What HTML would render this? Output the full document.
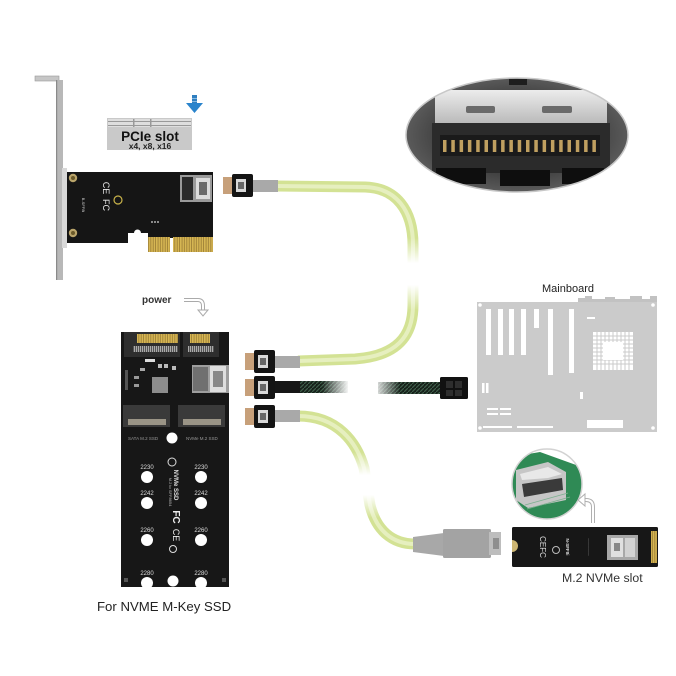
<!DOCTYPE html>
<html><head><meta charset="utf-8">
<style>
html,body{margin:0;padding:0;background:#fff;}
svg{display:block;}
text{font-family:"Liberation Sans",sans-serif;}
</style></head><body>
<svg width="676" height="676" viewBox="0 0 676 676" xmlns="http://www.w3.org/2000/svg">
<defs>
 <linearGradient id="fadeV" x1="0" y1="0" x2="0" y2="1">
  <stop offset="0" stop-color="#fff" stop-opacity="0"/>
  <stop offset="0.35" stop-color="#fff" stop-opacity="1"/>
  <stop offset="0.65" stop-color="#fff" stop-opacity="1"/>
  <stop offset="1" stop-color="#fff" stop-opacity="0"/>
 </linearGradient>
 <linearGradient id="fadeH" x1="0" y1="0" x2="1" y2="0">
  <stop offset="0" stop-color="#fff" stop-opacity="0"/>
  <stop offset="0.35" stop-color="#fff" stop-opacity="1"/>
  <stop offset="0.65" stop-color="#fff" stop-opacity="1"/>
  <stop offset="1" stop-color="#fff" stop-opacity="0"/>
 </linearGradient>
 <linearGradient id="silver" x1="0" y1="0" x2="0" y2="1">
  <stop offset="0" stop-color="#ececec"/>
  <stop offset="1" stop-color="#b9b9b9"/>
 </linearGradient>
 <radialGradient id="ovalG" cx="0.5" cy="0.5" r="0.6">
  <stop offset="0.5" stop-color="#3a3a3a"/>
  <stop offset="1" stop-color="#6a6a6a"/>
 </radialGradient>
 <pattern id="gold" width="2.4" height="10" patternUnits="userSpaceOnUse">
  <rect width="2.4" height="10" fill="#d6b653"/>
  <rect x="1.7" width="0.7" height="10" fill="#8f7230"/>
 </pattern>
 <pattern id="braid" width="4" height="4" patternUnits="userSpaceOnUse">
  <rect width="4" height="4" fill="#16201a"/>
  <path d="M0,4 L4,0" stroke="#3f5e4a" stroke-width="1.2"/>
 </pattern>
 <pattern id="grayPins" width="2" height="6" patternUnits="userSpaceOnUse">
  <rect width="2" height="6" fill="#555"/>
  <rect width="1" height="6" fill="#aaa"/>
 </pattern>
 <clipPath id="ovalClip"><ellipse cx="517" cy="135" rx="111" ry="57"/></clipPath>
 <clipPath id="circClip"><circle cx="547" cy="484" r="35"/></clipPath>
</defs>

<rect width="676" height="676" fill="#fff"/>

<!-- ============ Bracket ============ -->
<rect x="35" y="76" width="24" height="5" fill="#c6c6c6" stroke="#999" stroke-width="0.6"/>
<rect x="56" y="80" width="7" height="200" fill="#b8b8b8"/>
<rect x="56" y="80" width="1.2" height="200" fill="#8a8a8a"/>
<rect x="62" y="168" width="5" height="80" fill="#d8d8d8"/>

<!-- ============ PCIe card ============ -->
<path d="M67,172 H213 V238 H148 V233 H141 A3.5,3.5 0 0 0 134,233 H128 V243 H67 Z" fill="#151515"/>
<rect x="148" y="237" width="22" height="15" fill="url(#gold)"/>
<rect x="173" y="237" width="40" height="15" fill="url(#gold)"/>
<circle cx="73" cy="178" r="4.2" fill="#b9a46a"/>
<circle cx="73" cy="178" r="2" fill="#6b5a2a"/>
<circle cx="73" cy="233" r="4.2" fill="#b9a46a"/>
<circle cx="73" cy="233" r="2" fill="#6b5a2a"/>
<text x="103" y="188" font-size="9" fill="#e8e8e8" transform="rotate(90 103 188)" text-anchor="middle">CE</text>
<text x="103" y="205" font-size="9" fill="#e8e8e8" transform="rotate(90 103 205)" text-anchor="middle">FC</text>
<text x="82" y="205" font-size="4" fill="#ccc" transform="rotate(90 82 205)" text-anchor="middle">B-SFF8i</text>
<circle cx="118" cy="200" r="4" fill="none" stroke="#c9b34a" stroke-width="1.2"/>
<circle cx="152" cy="222" r="0.9" fill="#ddd"/><circle cx="155" cy="222" r="0.9" fill="#ddd"/><circle cx="158" cy="222" r="0.9" fill="#ddd"/>
<!-- SFF connector on card -->
<rect x="180" y="175" width="32" height="27" fill="#9a9a9a"/>
<rect x="182" y="177" width="11" height="23" fill="#2a2a2a"/>
<rect x="196" y="178" width="14" height="21" fill="#dcdcdc"/>
<rect x="199" y="182" width="8" height="13" fill="#6a6a6a"/>

<!-- PCIe slot illustration -->
<rect x="107" y="118" width="85" height="32" fill="#c9c9c9"/>
<rect x="108" y="119" width="83" height="8" fill="#dedede"/>
<rect x="108" y="121" width="83" height="0.8" fill="#888"/>
<rect x="108" y="125" width="83" height="0.8" fill="#888"/>
<rect x="133" y="119" width="1.5" height="8" fill="#999"/>
<rect x="150" y="119" width="1.5" height="8" fill="#999"/>
<text x="150" y="141" font-size="13.5" font-weight="bold" fill="#111" text-anchor="middle">PCIe slot</text>
<text x="150" y="149" font-size="8.5" font-weight="bold" fill="#222" text-anchor="middle">x4, x8, x16</text>
<!-- blue arrow -->
<rect x="192" y="95" width="5" height="9" fill="#2f7fc0"/>
<rect x="192" y="98" width="5" height="0.8" fill="#9cc8ea"/>
<rect x="192" y="101" width="5" height="0.8" fill="#9cc8ea"/>
<polygon points="186,103 203,103 194.5,113" fill="#2a84cc"/>

<!-- ============ Oval inset ============ -->
<ellipse cx="517" cy="135" rx="111" ry="57" fill="url(#ovalG)"/>
<g clip-path="url(#ovalClip)">
 <rect x="435" y="90" width="172" height="34" fill="url(#silver)"/>
 <rect x="466" y="106" width="29" height="7" rx="2" fill="#6a6a6a"/>
 <rect x="542" y="106" width="30" height="7" rx="2" fill="#6a6a6a"/>
 <rect x="432" y="123" width="178" height="50" fill="#2b2b2b"/>
 <rect x="440" y="135" width="160" height="21" fill="#1a1a1a"/>
 <g fill="#c0a060">
  <rect x="443" y="140" width="3.5" height="12"/><rect x="451.3" y="140" width="3.5" height="12"/>
  <rect x="459.6" y="140" width="3.5" height="12"/><rect x="467.9" y="140" width="3.5" height="12"/>
  <rect x="476.2" y="140" width="3.5" height="12"/><rect x="484.5" y="140" width="3.5" height="12"/>
  <rect x="492.8" y="140" width="3.5" height="12"/><rect x="501.1" y="140" width="3.5" height="12"/>
  <rect x="509.4" y="140" width="3.5" height="12"/><rect x="517.7" y="140" width="3.5" height="12"/>
  <rect x="526" y="140" width="3.5" height="12"/><rect x="534.3" y="140" width="3.5" height="12"/>
  <rect x="542.6" y="140" width="3.5" height="12"/><rect x="550.9" y="140" width="3.5" height="12"/>
  <rect x="559.2" y="140" width="3.5" height="12"/><rect x="567.5" y="140" width="3.5" height="12"/>
  <rect x="575.8" y="140" width="3.5" height="12"/><rect x="584.1" y="140" width="3.5" height="12"/>
  <rect x="592.4" y="140" width="3.5" height="12"/>
 </g>
 <rect x="436" y="168" width="50" height="16" fill="#0e0e0e"/>
 <rect x="500" y="170" width="50" height="16" fill="#0e0e0e"/>
 <rect x="562" y="168" width="42" height="16" fill="#0e0e0e"/>
 <rect x="509" y="79" width="18" height="6" fill="#1e1e1e"/>
</g>
<ellipse cx="517" cy="135" rx="111" ry="57" fill="none" stroke="#c8c8c8" stroke-width="1.5"/>

<!-- ============ Cables ============ -->
<path d="M276,186 L365,187 C396,188 413,210 413,245 L413,305 C413,337 396,356 355,359 L298,361" fill="none" stroke="#d3e294" stroke-width="11"/>
<path d="M276,186 L365,187 C396,188 413,210 413,245 L413,305 C413,337 396,356 355,359 L298,361" fill="none" stroke="#e6efbf" stroke-width="4"/>
<rect x="398" y="238" width="30" height="72" fill="url(#fadeV)"/>

<path d="M298,416 C338,416 357,443 364,468 L370,505 C376,530 392,544 415,544" fill="none" stroke="#d3e294" stroke-width="11"/>
<path d="M298,416 C338,416 357,443 364,468 L370,505 C376,530 392,544 415,544" fill="none" stroke="#e6efbf" stroke-width="4"/>
<rect x="350" y="452" width="35" height="66" fill="url(#fadeV)"/>

<rect x="298" y="381" width="50" height="12" fill="url(#braid)"/>
<rect x="378" y="382" width="64" height="12" fill="url(#braid)"/>
<rect x="322" y="376" width="78" height="22" fill="url(#fadeH)"/>
<rect x="440" y="377" width="28" height="22" rx="1.5" fill="#111"/>
<rect x="446" y="381" width="7" height="7" fill="#2e2e2e"/>
<rect x="455" y="381" width="7" height="7" fill="#2e2e2e"/>
<rect x="446" y="390" width="7" height="6" fill="#2e2e2e"/>
<rect x="455" y="390" width="7" height="6" fill="#2e2e2e"/>

<rect x="253" y="180" width="25" height="12" fill="#a9a9a9"/>
<rect x="275" y="356" width="25" height="12" fill="#a9a9a9"/>
<rect x="275" y="381" width="25" height="12" fill="#161616"/>
<rect x="275" y="410" width="25" height="12" fill="#a9a9a9"/>

<g>
 <rect x="223" y="177" width="10" height="17" fill="#c7a07a"/>
 <rect x="232" y="174" width="21" height="23" rx="2" fill="#141414"/>
 <rect x="236" y="179" width="10" height="13" fill="#d8d8d8"/>
 <rect x="238" y="182" width="6" height="7" fill="#666"/>
</g>
<g>
 <rect x="245" y="353" width="10" height="17" fill="#c7a07a"/>
 <rect x="254" y="350" width="21" height="23" rx="2" fill="#141414"/>
 <rect x="258" y="355" width="10" height="13" fill="#d8d8d8"/>
 <rect x="260" y="358" width="6" height="7" fill="#666"/>
</g>
<g>
 <rect x="245" y="379" width="10" height="17" fill="#c7a07a"/>
 <rect x="254" y="376" width="21" height="23" rx="2" fill="#141414"/>
 <rect x="258" y="381" width="10" height="13" fill="#d8d8d8"/>
 <rect x="260" y="384" width="6" height="7" fill="#666"/>
</g>
<g>
 <rect x="245" y="408" width="10" height="17" fill="#c7a07a"/>
 <rect x="254" y="405" width="21" height="23" rx="2" fill="#141414"/>
 <rect x="258" y="410" width="10" height="13" fill="#d8d8d8"/>
 <rect x="260" y="413" width="6" height="7" fill="#666"/>
</g>

<polygon points="413,537 444,533 444,556 413,552" fill="#a8a8a8"/>
<rect x="443" y="529" width="48" height="29" rx="1.5" fill="#a3a3a3"/>
<rect x="489" y="532" width="12" height="23" fill="#bdbdbd"/>
<rect x="493" y="538" width="6" height="11" fill="#8e8e8e"/>

<!-- ============ Lower adapter board ============ -->
<rect x="121" y="332" width="108" height="255" fill="#171717"/>
<rect x="124" y="332" width="56" height="25" fill="#2e2e2e"/>
<rect x="137" y="334" width="41" height="9" fill="url(#gold)"/>
<rect x="133" y="346" width="45" height="6" fill="url(#grayPins)"/>
<rect x="183" y="332" width="36" height="25" fill="#2e2e2e"/>
<rect x="190" y="334" width="20" height="9" fill="url(#gold)"/>
<rect x="188" y="346" width="26" height="6" fill="url(#grayPins)"/>
<rect x="145" y="359" width="10" height="3" fill="#ddd"/>
<rect x="158" y="364" width="4" height="4" fill="#bbb"/>
<rect x="164" y="364" width="4" height="4" fill="#bbb"/>
<rect x="172" y="366" width="4" height="4" fill="#bbb"/>
<rect x="140" y="368" width="5" height="3" fill="#aaa"/>
<rect x="134" y="376" width="5" height="3" fill="#999"/>
<rect x="134" y="384" width="5" height="3" fill="#999"/>
<rect x="152" y="377" width="16" height="16" fill="#8d8d8d"/>
<rect x="125" y="370" width="3" height="20" fill="#555"/>
<rect x="192" y="365" width="37" height="28" fill="#9e9e9e"/>
<rect x="193" y="367" width="15" height="24" fill="#707070"/>
<rect x="210" y="366" width="16" height="26" fill="#dedede"/>
<rect x="213" y="371" width="10" height="16" fill="#888"/>
<rect x="123" y="405" width="47" height="22" fill="#3a3a3a"/>
<rect x="128" y="419" width="38" height="6" fill="#9a9486"/>
<rect x="178" y="405" width="47" height="22" fill="#3a3a3a"/>
<rect x="183" y="419" width="38" height="6" fill="#9a9486"/>
<text x="128" y="440" font-size="4.5" fill="#999">SATA M.2 SSD</text>
<text x="186" y="440" font-size="4.5" fill="#999">NVMe M.2 SSD</text>
<circle cx="172" cy="438" r="5.5" fill="#fff"/>
<g fill="#fff">
 <circle cx="147" cy="477" r="6"/><circle cx="201" cy="477" r="6"/>
 <circle cx="147" cy="503" r="6"/><circle cx="201" cy="503" r="6"/>
 <circle cx="147" cy="540" r="6"/><circle cx="201" cy="540" r="6"/>
 <circle cx="147" cy="583" r="6"/><circle cx="201" cy="583" r="6"/>
 <circle cx="173" cy="581" r="5.5"/>
</g>
<g font-size="6" fill="#ddd" text-anchor="middle">
 <text x="147" y="469">2230</text><text x="201" y="469">2230</text>
 <text x="147" y="495">2242</text><text x="201" y="495">2242</text>
 <text x="147" y="532">2260</text><text x="201" y="532">2260</text>
 <text x="147" y="575">2280</text><text x="201" y="575">2280</text>
</g>
<circle cx="172" cy="462" r="4" fill="none" stroke="#ddd" stroke-width="1"/>
<text x="174" y="485" font-size="6" font-weight="bold" fill="#ddd" transform="rotate(90 174 485)" text-anchor="middle">NVMe SSD</text>
<text x="169" y="492" font-size="4" fill="#bbb" transform="rotate(90 169 492)" text-anchor="middle">M.2 to SFF8654</text>
<text x="173" y="517" font-size="10" font-weight="bold" fill="#eee" transform="rotate(90 173 517)" text-anchor="middle">FC</text>
<text x="173" y="535" font-size="9" fill="#eee" transform="rotate(90 173 535)" text-anchor="middle">CE</text>
<circle cx="173" cy="549" r="3.5" fill="none" stroke="#ddd" stroke-width="1"/>
<rect x="124" y="578" width="4" height="4" fill="#555"/>
<rect x="222" y="578" width="4" height="4" fill="#555"/>

<text x="142" y="303" font-size="10" font-weight="bold" fill="#333">power</text>
<path d="M184,300 H198 Q203,300 203,306 V311" fill="none" stroke="#aaa" stroke-width="4"/>
<path d="M184,300 H198 Q203,300 203,306 V311" fill="none" stroke="#fff" stroke-width="2"/>
<polygon points="198,310 208,310 203,316" fill="#fff" stroke="#aaa" stroke-width="1"/>

<text x="97" y="611" font-size="13.2" fill="#222">For NVME M-Key SSD</text>

<!-- ============ Mainboard ============ -->
<text x="568" y="292" font-size="11" fill="#222" text-anchor="middle">Mainboard</text>
<path d="M578,302 V298 H585 V296 H592 V299 H605 V297 H615 V299 H630 V296 H642 V299 H650 V296 H657 V302 Z" fill="#c2c2c2"/>
<rect x="477" y="302" width="180" height="130" fill="#cbcbcb"/>
<g fill="#fff">
 <circle cx="480" cy="305" r="1.8"/><circle cx="480" cy="428" r="1.8"/>
 <circle cx="653" cy="305" r="1.8"/><circle cx="653" cy="428" r="1.8"/>
 <rect x="486" y="309" width="5" height="46"/>
 <rect x="498" y="309" width="5" height="46"/>
 <rect x="509" y="309" width="5" height="46"/>
 <rect x="521" y="309" width="5" height="46"/>
 <rect x="534" y="309" width="5" height="19"/>
 <rect x="548" y="309" width="5" height="66"/>
 <rect x="569" y="309" width="5" height="64"/>
 <rect x="587" y="317" width="8" height="2"/>
 <rect x="593" y="332" width="40" height="38"/>
 <rect x="482" y="383" width="2.5" height="10"/>
 <rect x="486" y="383" width="2.5" height="10"/>
 <rect x="487" y="408" width="11" height="2"/><rect x="500" y="408" width="11" height="2"/>
 <rect x="487" y="413" width="11" height="2"/><rect x="500" y="413" width="11" height="2"/>
 <rect x="483" y="426" width="29" height="2"/>
 <rect x="517" y="426" width="36" height="2"/>
 <rect x="587" y="420" width="36" height="8"/>
 <rect x="580" y="392" width="3" height="7"/>
</g>
<g stroke="#cbcbcb" stroke-width="1">
 <path d="M597,332 V370 M601,332 V370 M605,332 V370 M609,332 V370 M613,332 V370 M617,332 V370 M621,332 V370 M625,332 V370 M629,332 V370"/>
 <path d="M593,336 H633 M593,340 H633 M593,344 H633 M593,348 H633 M593,352 H633 M593,356 H633 M593,360 H633 M593,364 H633"/>
</g>
<rect x="603" y="342" width="20" height="18" fill="#fff"/>

<!-- ============ M.2 card ============ -->
<rect x="512" y="527" width="146" height="40" rx="1.5" fill="#171717"/>
<rect x="651" y="531" width="6" height="32" fill="url(#gold)"/>
<path d="M512,540 A6,6 0 0 1 512,552 Z" fill="#cdb673"/>
<text x="540" y="547" font-size="8" fill="#ddd" transform="rotate(90 540 547)" text-anchor="middle">CEFC</text>
<circle cx="556" cy="550" r="3.5" fill="none" stroke="#bbb" stroke-width="1"/>
<text x="566" y="547" font-size="4.5" font-weight="bold" fill="#ddd" transform="rotate(90 566 547)" text-anchor="middle">N-SFF8i</text>
<text x="588" y="547" font-size="3.5" fill="#999" transform="rotate(90 588 547)" text-anchor="middle">—————</text>
<rect x="607" y="535" width="31" height="25" fill="#a8a8a8"/>
<rect x="611" y="538" width="12" height="19" fill="#e0e0e0"/>
<rect x="625" y="538" width="10" height="19" fill="#d2d2d2"/>
<rect x="614" y="543" width="6" height="8" fill="#888"/>
<text x="562" y="582" font-size="12.3" fill="#333">M.2 NVMe slot</text>

<g clip-path="url(#circClip)">
 <rect x="510" y="447" width="76" height="76" fill="#fff"/>
 <polygon points="505,458 540,452 590,470 590,525 505,525" fill="#2f8a55"/>
 <polygon points="516,470 548,462 566,472 566,500 528,508 516,500" fill="#c6c6c6"/>
 <polygon points="522,484 562,478 563,490 524,497" fill="#3a3a3a"/>
 <polygon points="520,474 548,467 562,474 548,478 522,480" fill="#e8e8e8"/>
 <path d="M525,505 L568,493 M527,509 L570,497" stroke="#7bb08f" stroke-width="0.8"/>
</g>
<circle cx="547" cy="484" r="35" fill="none" stroke="#d2d2d2" stroke-width="1.5"/>
<path d="M593,523 V507 Q593,500 586,500 H583" fill="none" stroke="#b0b0b0" stroke-width="4"/>
<path d="M593,523 V507 Q593,500 586,500 H583" fill="none" stroke="#fff" stroke-width="2"/>
<polygon points="585,494 585,506 578,500" fill="#fff" stroke="#b0b0b0" stroke-width="1"/>
</svg>
</body></html>
